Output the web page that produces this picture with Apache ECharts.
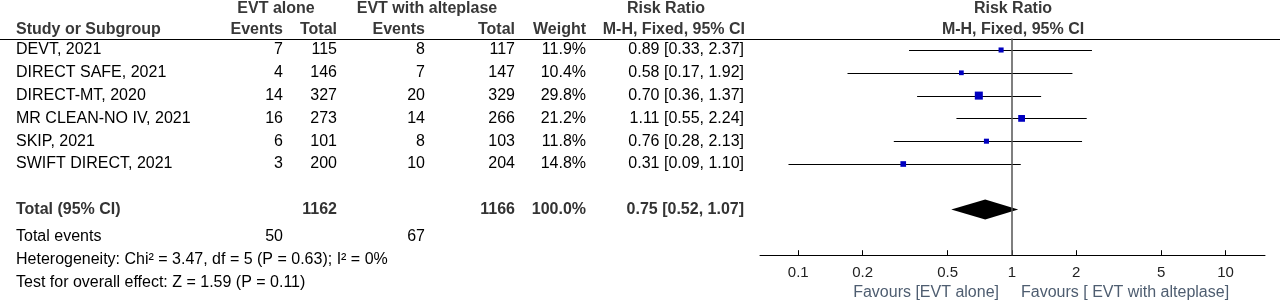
<!DOCTYPE html>
<html>
<head>
<meta charset="utf-8">
<script src="https://cdn.jsdelivr.net/npm/echarts@6/dist/echarts.min.js"></script>
<style>
  html, body { margin: 0; padding: 0; background: #fff; }
  #chart { width: 1280px; height: 303px; }
</style>
</head>
<body>
<div id="chart"></div>
<script>
// data
const studies = ['DEVT, 2021', 'DIRECT SAFE, 2021', 'DIRECT-MT, 2020', 'MR CLEAN-NO IV, 2021', 'SKIP, 2021', 'SWIFT DIRECT, 2021'];
const eventsAlone = [7, 4, 14, 16, 6, 3];
const totalAlone = [115, 146, 327, 273, 101, 200];
const eventsAlt = [8, 7, 20, 14, 8, 10];
const totalAlt = [117, 147, 329, 266, 103, 204];
const weights = [11.9, 10.4, 29.8, 21.2, 11.8, 14.8];
const rr = [0.89, 0.58, 0.70, 1.11, 0.76, 0.31];
const ciLow = [0.33, 0.17, 0.36, 0.55, 0.28, 0.09];
const ciHigh = [2.37, 1.92, 1.37, 2.24, 2.13, 1.10];
const pooled = [0.75, 0.52, 1.07]; // RR, low, high
const totals = [1162, 1166];
const totalEvents = [50, 67];
const tickValues = [0.1, 0.2, 0.5, 1, 2, 5, 10];
const axisRange = [0.0662, 15.3];
const hetText = 'Heterogeneity: Chi\u00b2 = 3.47, df = 5 (P = 0.63); I\u00b2 = 0%';
const testText = 'Test for overall effect: Z = 1.59 (P = 0.11)';

const lg = Math.log10;
const fmt = v => v.toFixed(2);

const FONT = '"Liberation Sans", Arial, sans-serif';
const FS = 16;
const ROW_TOP = 38.6;
const PITCH = 22.8;
const TOTAL_ROW = 7;
function rowY(i) { return ROW_TOP + (i + 0.5) * PITCH; }

// column right edges
const colX = { evA: 283, totA: 337, evB: 425, totB: 515, wt: 586, rr: 744 };

function txt(text, x, y, align, bold, color) {
  return {
    type: 'text', x: x, y: y, silent: true,
    style: {
      text: text,
      font: (bold ? 'bold ' : '') + FS + 'px ' + FONT,
      fill: color || '#000',
      align: align, textAlign: align,
      verticalAlign: 'middle', textVerticalAlign: 'middle'
    }
  };
}

const graphics = [];
const HEAD = '#383838';
// header
graphics.push(txt('EVT alone', 276, 8.5, 'center', true, HEAD));
graphics.push(txt('EVT with alteplase', 427, 8.5, 'center', true, HEAD));
graphics.push(txt('Risk Ratio', 666, 8.5, 'center', true, HEAD));
graphics.push(txt('Risk Ratio', 1013, 8.5, 'center', true, HEAD));
graphics.push(txt('Study or Subgroup', 16, 29.5, 'left', true, HEAD));
graphics.push(txt('Events', colX.evA, 29.5, 'right', true, HEAD));
graphics.push(txt('Total', colX.totA, 29.5, 'right', true, HEAD));
graphics.push(txt('Events', colX.evB, 29.5, 'right', true, HEAD));
graphics.push(txt('Total', colX.totB, 29.5, 'right', true, HEAD));
graphics.push(txt('Weight', colX.wt, 29.5, 'right', true, HEAD));
graphics.push(txt('M-H, Fixed, 95% CI', 745, 29.5, 'right', true, HEAD));
graphics.push(txt('M-H, Fixed, 95% CI', 1013, 29.5, 'center', true, HEAD));
graphics.push({
  type: 'line', silent: true,
  shape: { x1: 0, y1: 39.5, x2: 1280, y2: 39.5 },
  style: { stroke: '#000', lineWidth: 1 }
});

// study rows
studies.forEach((s, i) => {
  const y = rowY(i);
  graphics.push(txt(s, 16, y, 'left'));
  graphics.push(txt(String(eventsAlone[i]), colX.evA, y, 'right'));
  graphics.push(txt(String(totalAlone[i]), colX.totA, y, 'right'));
  graphics.push(txt(String(eventsAlt[i]), colX.evB, y, 'right'));
  graphics.push(txt(String(totalAlt[i]), colX.totB, y, 'right'));
  graphics.push(txt(weights[i].toFixed(1) + '%', colX.wt, y, 'right'));
  graphics.push(txt(fmt(rr[i]) + ' [' + fmt(ciLow[i]) + ', ' + fmt(ciHigh[i]) + ']', colX.rr, y, 'right'));
});

// totals
const yT = rowY(TOTAL_ROW);
const TOT = '#333';
graphics.push(txt('Total (95% CI)', 16, yT, 'left', true, TOT));
graphics.push(txt(String(totals[0]), colX.totA, yT, 'right', true, TOT));
graphics.push(txt(String(totals[1]), colX.totB, yT, 'right', true, TOT));
graphics.push(txt('100.0%', colX.wt, yT, 'right', true, TOT));
graphics.push(txt(fmt(pooled[0]) + ' [' + fmt(pooled[1]) + ', ' + fmt(pooled[2]) + ']', colX.rr, yT, 'right', true, TOT));
graphics.push(txt('Total events', 16, 237, 'left'));
graphics.push(txt(String(totalEvents[0]), colX.evA, 237, 'right'));
graphics.push(txt(String(totalEvents[1]), colX.evB, 237, 'right'));
graphics.push(txt(hetText, 16, 260, 'left'));
graphics.push(txt(testText, 16, 283, 'left'));

// favours labels
const FAV = '#4e5d70';
graphics.push(txt('Favours [EVT alone]', 999, 293, 'right', false, FAV));
graphics.push(txt('Favours [ EVT with alteplase]', 1021, 293, 'left', false, FAV));

const chart = echarts.init(document.getElementById('chart'));

chart.setOption({
  animation: false,
  grid: { left: 760, width: 505, top: ROW_TOP, height: 9.5 * PITCH, containLabel: false },
  xAxis: {
    type: 'value',
    position: 'bottom',
    min: lg(axisRange[0]),
    max: lg(axisRange[1]),
    axisLine: { onZero: false, lineStyle: { color: '#000', width: 1 } },
    axisTick: {
      inside: true, length: 5,
      customValues: tickValues.map(lg),
      lineStyle: { color: '#000' }
    },
    axisLabel: {
      customValues: tickValues.map(lg),
      formatter: v => {
        const t = tickValues.find(t => Math.abs(lg(t) - v) < 1e-6);
        return t === undefined ? '' : String(t);
      },
      color: '#222', fontSize: 15, fontFamily: FONT, margin: 10
    },
    splitLine: { show: false }
  },
  yAxis: { type: 'value', inverse: true, min: -0.5, max: 9, show: false },
  series: [
    {
      // confidence intervals
      type: 'custom',
      silent: true,
      encode: { x: [0, 1], y: 2 },
      data: studies.map((s, i) => [lg(ciLow[i]), lg(ciHigh[i]), i]),
      renderItem: (params, api) => {
        const a = api.coord([api.value(0), api.value(2)]);
        const b = api.coord([api.value(1), api.value(2)]);
        return {
          type: 'line',
          shape: { x1: a[0], y1: Math.round(a[1]) + 0.5, x2: b[0], y2: Math.round(b[1]) + 0.5 },
          style: { stroke: '#000', lineWidth: 1 }
        };
      },
      markLine: {
        silent: true, symbol: 'none',
        label: { show: false },
        lineStyle: { color: '#555', width: 1.5, type: 'solid' },
        data: [{ xAxis: 0 }]
      },
      z: 2
    },
    {
      type: 'scatter',
      silent: true,
      symbol: 'rect',
      symbolSize: d => 1.47 * Math.sqrt(d[2]),
      itemStyle: { color: '#0000c0', opacity: 1 },
      data: rr.map((v, i) => [lg(v), i, weights[i]]),
      z: 3
    },
    {
      // pooled diamond
      type: 'custom',
      silent: true,
      encode: { x: [0, 1, 2], y: 3 },
      data: [[lg(pooled[0]), lg(pooled[1]), lg(pooled[2]), TOTAL_ROW]],
      renderItem: (params, api) => {
        const c = api.coord([api.value(0), api.value(3)]);
        const l = api.coord([api.value(1), api.value(3)]);
        const r = api.coord([api.value(2), api.value(3)]);
        const h = 10;
        return {
          type: 'polygon',
          shape: { points: [[l[0], c[1]], [c[0], c[1] - h], [r[0], c[1]], [c[0], c[1] + h]] },
          style: { fill: '#000' }
        };
      },
      z: 3
    }
  ],
  graphic: graphics
});
</script>
</body>
</html>
